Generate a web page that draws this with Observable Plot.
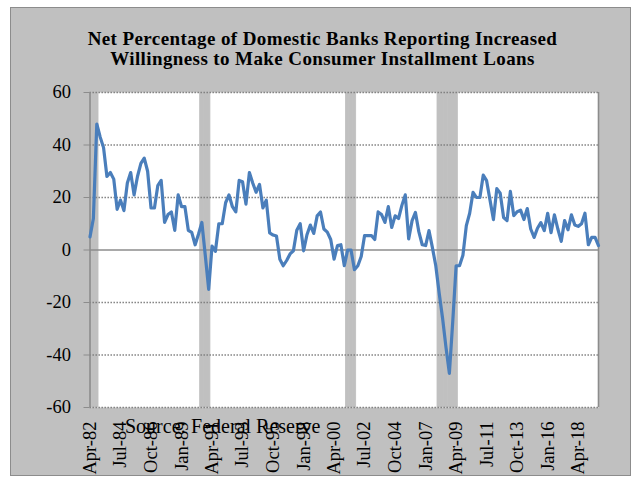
<!DOCTYPE html>
<html><head><meta charset="utf-8">
<script src="https://cdn.jsdelivr.net/npm/d3@7"></script>
<script src="https://cdn.jsdelivr.net/npm/@observablehq/plot@0.6"></script>
<style>
html,body{margin:0;padding:0;background:#fff;}
#wrap{position:relative;width:639px;height:481px;overflow:hidden;font-family:"Liberation Serif","Times New Roman",serif;color:#000;}
#box{position:absolute;left:10px;top:7px;width:621px;height:469px;background:#c0c0c0;border:1px solid #8c8c8c;box-sizing:border-box;}
#chart{position:absolute;left:0;top:0;}
#title{position:absolute;left:0;width:645px;top:29px;text-align:center;font-weight:bold;font-size:19px;line-height:19.5px;letter-spacing:0.4px;}
#source{position:absolute;left:125px;top:416px;font-size:20px;line-height:20px;white-space:nowrap;}
</style></head><body>
<div id="wrap">
  <div id="box"></div>
  <div id="chart"></div>
  <div id="title">Net Percentage of Domestic Banks Reporting Increased<br>Willingness to Make Consumer Installment Loans</div>
  <div id="source">Source: Federal Reserve</div>
</div>
<script>
// Quarterly survey values, Apr-82 through Oct-19
const firstQuarter = "Apr-82";
const values = [
  5, 12, 48, 43, 39, 28, 29.5, 27, 15.5, 19,
  15, 25.5, 29.5, 21, 28, 33, 35, 30, 16, 16,
  24.5, 26.5, 10.5, 13.5, 14.5, 7.5, 21, 16.5, 16.5, 7.5,
  6.7, 2, 6, 10.5, -2, -15, 1.5, -0.5, 10, 10,
  18, 21, 16.5, 14.5, 26.5, 26, 17.5, 29.5, 25.5, 22,
  25, 16, 19, 6.5, 5.7, 5.3, -3.5, -6, -4, -1.5,
  -0.3, 7.5, 10, -0.3, 5.8, 9.5, 6.3, 13, 14.5, 8,
  6.8, 4, -3.5, 1.7, 2, -6, 0, 0, -7.5, -6,
  -2.5, 5.5, 5.5, 5.5, 4, 14.5, 13.5, 10.5, 16.5, 8.6,
  13, 12, 17, 21, 4.2, 11.2, 14.3, 7, 2, 1.7,
  7.4, 1, -6, -16.5, -26, -37, -47, -27, -6, -6,
  -2, 9.3, 14, 22, 20, 20, 28.5, 26.4, 19, 11.6,
  23.4, 21.6, 12.4, 11.2, 22.3, 13.1, 14.6, 15.2, 11.6, 15.8,
  8, 4.8, 8.3, 10.4, 7.4, 14, 6.6, 13.4, 8, 3.3,
  11.2, 7.7, 13.4, 9.5, 9, 10, 14, 2, 4.8, 4.8,
  1.7
];
const tickLabels = ["Apr-82","Jul-84","Oct-86","Jan-89","Apr-91","Jul-93","Oct-95","Jan-98","Apr-00",
  "Jul-02","Oct-04","Jan-07","Apr-09","Jul-11","Oct-13","Jan-16","Apr-18"];
const recessionQuarters = ["Apr-82","Jul-82","Oct-82","Jul-90","Oct-90","Jan-91","Apr-01","Jul-01","Oct-01",
  "Jan-08","Apr-08","Jul-08","Oct-08","Jan-09","Apr-09"];
const yTicks = [-60, -40, -20, 0, 20, 40, 60];
const gridValues = [-60, -40, -20, 20, 40, 60];

const parseQ = d3.utcParse("%b-%y");
const start = parseQ(firstQuarter);
const data = values.map((v, i) => ({date: d3.utcMonth.offset(start, 3 * i), value: v}));
const domain = [data[0].date, data[data.length - 1].date];
const recessions = recessionQuarters.map(parseQ);
const clampX = d => d < domain[0] ? domain[0] : (d > domain[1] ? domain[1] : d);

const chart = Plot.plot({
  width: 639, height: 481,
  marginLeft: 89.5, marginRight: 41, marginTop: 92, marginBottom: 74,
  style: {background: "transparent", fontFamily: "'Liberation Serif', 'Times New Roman', serif", fontSize: "18.5px", color: "#000", overflow: "visible"},
  x: {type: "utc", domain, label: null},
  y: {domain: [-60, 60], label: null},
  marks: [
    Plot.frame({fill: "white", stroke: null}),
    Plot.rect(recessions, {
      x1: d => clampX(d3.utcDay.offset(d, -46)),
      x2: d => clampX(d3.utcDay.offset(d, 47)),
      y1: -60, y2: 60, fill: "#c0c0c0", stroke: "#c0c0c0", strokeWidth: 0.8
    }),
    Plot.ruleY(gridValues, {stroke: "#7a7a7a", strokeWidth: 1.3, strokeDasharray: "1.4,1.6"}),
    Plot.ruleY([0], {stroke: "#8c8c8c", strokeWidth: 1.6}),
    Plot.ruleX([domain[1]], {stroke: "#8c8c8c", strokeWidth: 1.6}),
    Plot.ruleX([domain[0]], {stroke: "#8c8c8c", strokeWidth: 1.6}),
    Plot.axisY({ticks: yTicks, tickFormat: d => String(d), tickSize: 6, tickPadding: 13, stroke: "#8c8c8c", fill: "#000", label: null}),
    Plot.axisX({ticks: tickLabels.map(parseQ), tickFormat: d3.utcFormat("%b-%y"), tickRotate: -90, tickSize: 0, tickPadding: 14, fill: "#000", label: null}),
    Plot.line(data, {x: "date", y: "value", stroke: "#4a7ebb", strokeWidth: 3.2, strokeLinejoin: "round"})
  ]
});
document.getElementById("chart").appendChild(chart);
</script>
</body></html>
